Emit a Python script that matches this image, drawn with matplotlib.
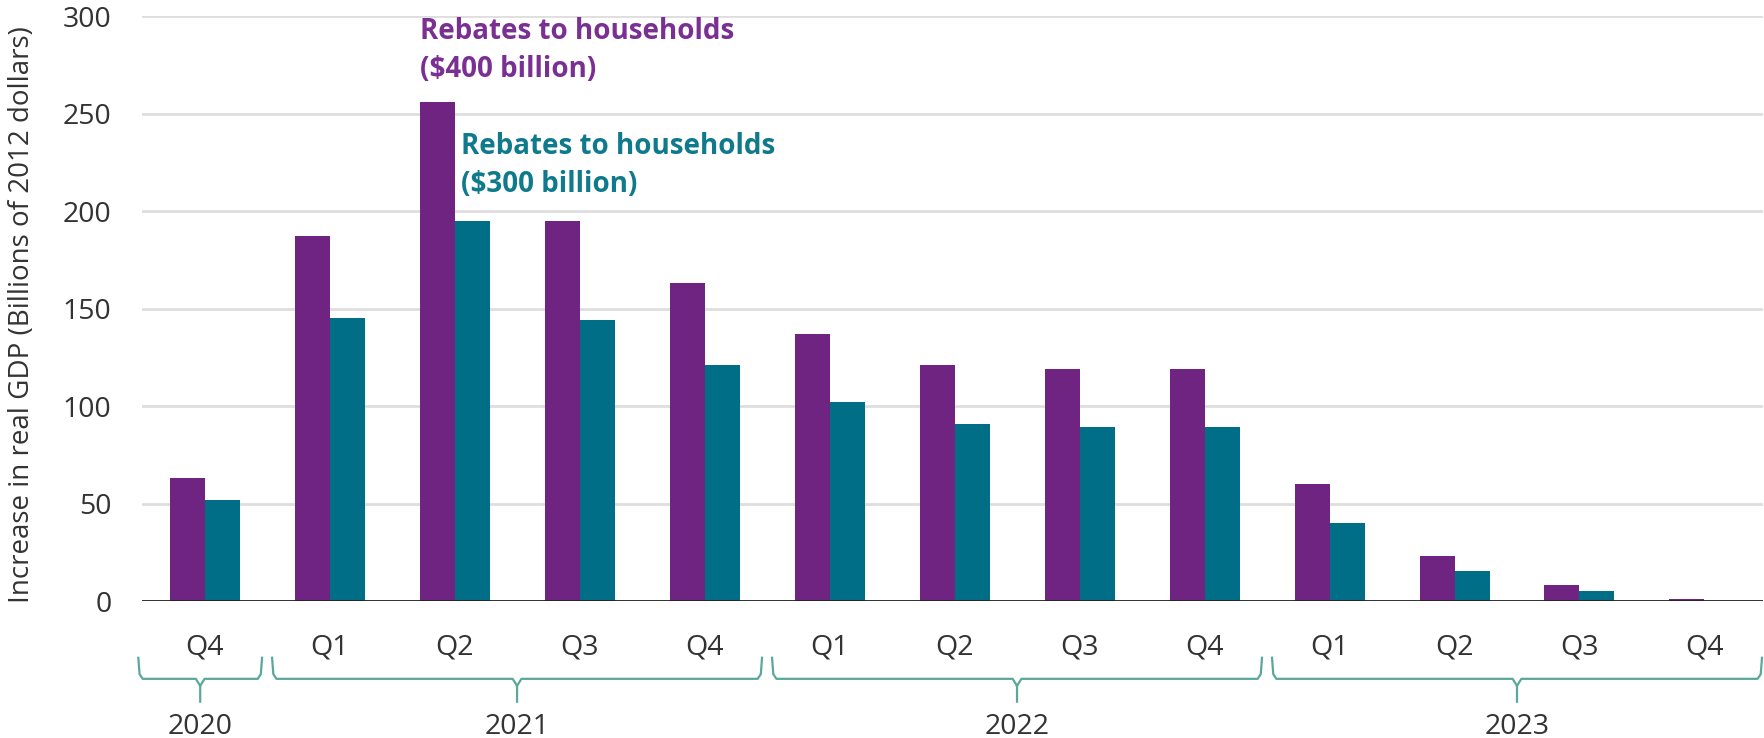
import numpy as np
import matplotlib
matplotlib.use("Agg")
import matplotlib.pyplot as plt

plt.rcParams['font.family'] = ['Open Sans', 'DejaVu Sans']

quarters = ['Q4', 'Q1', 'Q2', 'Q3', 'Q4', 'Q1', 'Q2', 'Q3', 'Q4', 'Q1', 'Q2', 'Q3', 'Q4']
rebate_400 = [63, 187, 256, 195, 163, 137, 121, 119, 119, 60, 23, 8, 1.2]
rebate_300 = [52, 145, 195, 144, 121, 102, 91, 89, 89, 40, 15.5, 5.3, 0.2]

# year brackets: label, first and last quarter index covered
years = ['2020', '2021', '2022', '2023']
year_first = [0, 1, 5, 9]
year_last = [0, 4, 8, 12]

purple = '#702482'
teal = '#006e87'
brace_col = '#5aa89b'
text_col = '#333333'

fig = plt.figure(figsize=(17.65, 7.38), dpi=100)
ax = fig.add_axes([0.0805, 0.1856, 0.9185, 0.7927])

x = np.arange(len(quarters))
w = 0.28
ax.bar(x - w / 2, rebate_400, width=w, color=purple, zorder=3)
ax.bar(x + w / 2, rebate_300, width=w, color=teal, zorder=3)

ax.set_xlim(-0.5, 12.47)
ax.set_ylim(0, 300)
ax.set_yticks([0, 50, 100, 150, 200, 250, 300])
ax.yaxis.grid(True, color='#dedede', linewidth=2, zorder=0)
ax.axhline(0, color='#222222', linewidth=2, zorder=4)
for s in ax.spines.values():
    s.set_visible(False)
ax.tick_params(axis='y', length=0, pad=22, labelsize=20.5, labelcolor=text_col)
ax.set_xticks([])

tr = ax.get_xaxis_transform()
for i, q in enumerate(quarters):
    ax.text(i, -0.079, q, transform=tr, ha='center', va='center',
            fontsize=20.5, color=text_col)

# curly brackets under the quarter labels
y_tip, y_bar, y_stem = -0.097, -0.133, -0.172
for yr, a, b in zip(years, year_first, year_last):
    x0 = a - 0.46 if a > 0 else a - 0.53
    x1 = b + 0.46
    xc = (x0 + x1) / 2
    d = 0.035
    ax.plot([x0, x0 + 0.01, x0 + d, xc - d, xc, xc],
            [y_tip, y_bar + 0.008, y_bar, y_bar, y_bar - 0.012, y_stem],
            transform=tr, color=brace_col, lw=1.6, clip_on=False)
    ax.plot([xc, xc + d, x1 - d, x1 - 0.01, x1],
            [y_bar - 0.012, y_bar, y_bar, y_bar + 0.008, y_tip],
            transform=tr, color=brace_col, lw=1.6, clip_on=False)
    ax.text(xc, -0.216, yr, transform=tr, ha='center', va='center',
            fontsize=20.5, color=text_col)

ax.text(1.72, 299.5, 'Rebates to households\n($400 billion)', ha='left', va='top',
        fontsize=20, fontweight='bold', color='#7a2f92', linespacing=1.4)
ax.text(2.05, 240.5, 'Rebates to households\n($300 billion)', ha='left', va='top',
        fontsize=20, fontweight='bold', color='#0f7a8c', linespacing=1.4)

fig.text(22 / 1765, 1 - 315 / 738, 'Increase in real GDP (Billions of 2012 dollars)',
         rotation=90, ha='center', va='center', fontsize=20, color=text_col)

fig.savefig('out.png', dpi=100)
